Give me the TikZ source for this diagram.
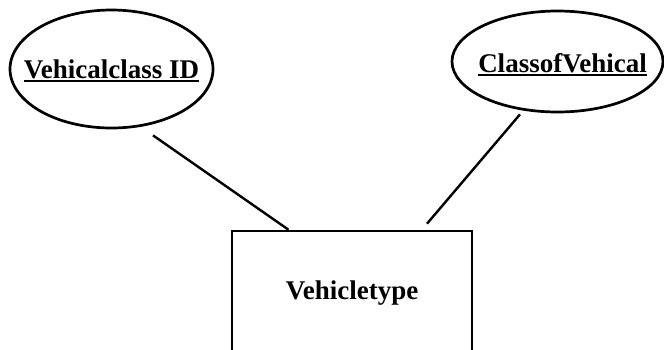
\documentclass[tikz,border=0pt]{standalone}
\usepackage{fontspec}
\setmainfont{Liberation Serif}
\usetikzlibrary{shapes.geometric,calc}
\newcommand\myul[2]{\smash{\raisebox{#1}{\setbox0\hbox{#2}\makebox[0pt]{\rlap{\rule[-4.2bp]{\wd0}{1.8bp}}\box0}}}}
\tikzset{
  attr/.style={ellipse, draw, line width=2.7bp, inner sep=0pt,
    font=\fontsize{27bp}{30bp}\selectfont\bfseries},
  entity/.style={rectangle, draw, line width=2.6bp, inner sep=0pt,
    minimum width=240bp, minimum height=124bp,
    font=\fontsize{27bp}{30bp}\selectfont\bfseries},
  conn/.style={line width=2.4bp}
}
\begin{document}
\begin{tikzpicture}[x=1bp,y=-1bp]
\path[use as bounding box, clip] (0,0) rectangle (664,349);
\fill[white] (0,0) rectangle (664,349);
\node[attr, minimum width=203bp, minimum height=118bp] (vid) at (111.5,69) {\myul{-9bp}{Vehicalclass ID}};
\node[attr, minimum width=211bp, minimum height=101bp] (cov) at (557.5,61.5) {\hspace*{10bp}\myul{-10.5bp}{ClassofVehical}};
\node[entity] (vt) at (352,293) {Vehicletype};
\draw[conn] ([shift={(41.5,6)}]vid.south) -- ([xshift=58]vt.north west);
\draw[conn] ([shift={(-37.5,1)}]cov.south) -- ([shift={(75,-6)}]vt.north);
\end{tikzpicture}
\end{document}
